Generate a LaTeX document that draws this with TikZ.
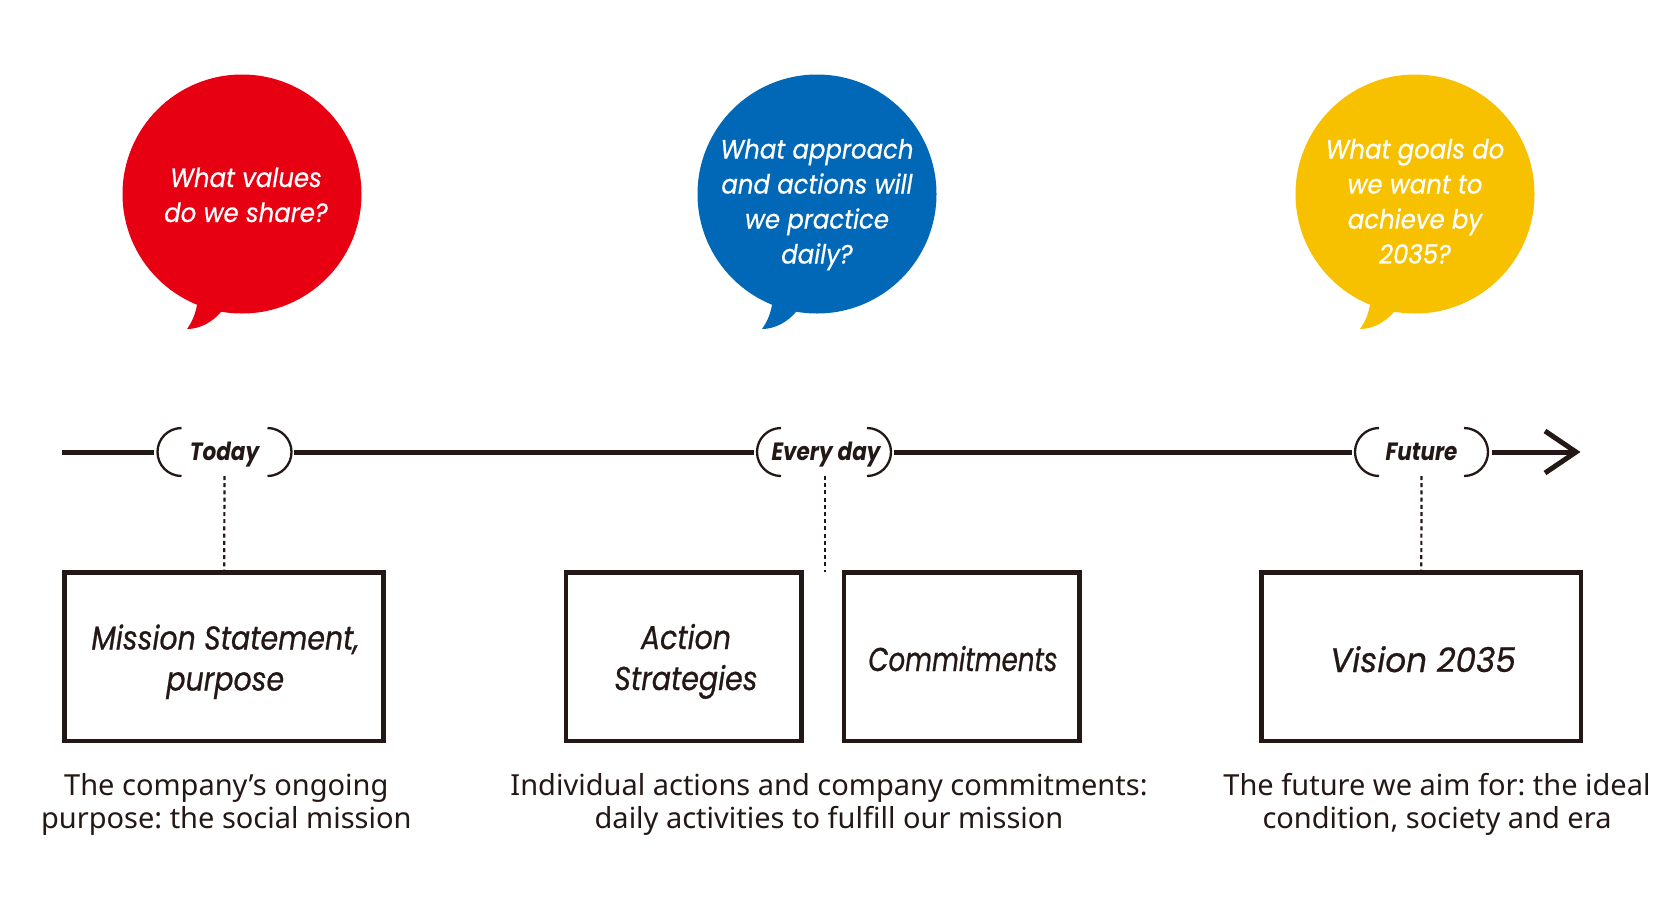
\documentclass[tikz,border=0pt]{standalone}
\usepackage{fontspec}
\setmainfont{Noto Sans}
\newfontfamily\geoq{Poppins}[FakeStretch=0.92,FakeBold=0.6]
\newfontfamily\geo{Poppins}[FakeStretch=0.86]
\newfontfamily\geobox{Poppins}[FakeStretch=0.86,FakeBold=0.7]
\newfontfamily\geoboxn{Poppins}[FakeStretch=0.79,FakeBold=0.7]
\newfontfamily\geoboxw{Poppins}[FakeStretch=0.96,FakeBold=0.7]
\definecolor{ink}{HTML}{231815}
\definecolor{bred}{HTML}{E60012}
\definecolor{bblue}{HTML}{0068B7}
\definecolor{byellow}{HTML}{F8C100}
\frenchspacing
\begin{document}
\begin{tikzpicture}[x=1pt,y=-1pt,
  tline/.style={draw=ink, line width=5pt},
  paren/.style={draw=ink, line width=2.3pt},
  dashlink/.style={draw=ink, line width=2.2pt, dash pattern=on 4pt off 3.2pt},
  bubble/.style={circle, minimum size=239pt, inner sep=0pt, outer sep=0pt},
  qtext/.style={text=white, align=center, inner sep=0pt, font=\geoq\itshape\fontsize{26.5}{35}\selectfont},
  tlabel/.style={text=ink, inner sep=0pt, font=\geo\bfseries\itshape\fontsize{25}{30}\selectfont},
  card/.style={draw=ink, line width=4.7pt, minimum height=168.6pt, inner sep=0pt},
  cardtext/.style={text=ink, align=center, inner sep=0pt, font=\geobox\itshape\fontsize{33}{41}\selectfont},
  desc/.style={text=ink, align=center, inner sep=0pt, font=\fontsize{29}{33.4}\selectfont}
]
\useasboundingbox (0,0) rectangle (1660,922);
\fill[white] (0,0) rectangle (1660,922);

% bubbles
\node[bubble, fill=bred] (q1) at (242,194) {};
\node[bubble, fill=bblue] (q2) at (817,194) {};
\node[bubble, fill=byellow] (q3) at (1415,194) {};
\foreach \c/\col in {242/bred, 817/bblue, 1415/byellow}{
  \begin{scope}[shift={(\c,194)}]
    \fill[\col] (-44,105) .. controls (-46,120) and (-50,128) .. (-55,135)
      .. controls (-42,135) and (-28,128) .. (-18,114) -- (-10,100) -- cycle;
  \end{scope}
}
\node[qtext, anchor=base] (t1) at (246,222) {What values\\do we share?};
\node[qtext, anchor=base] (t2) at (817,263.5) {What approach\\and actions will\\we practice\\daily?};
\node[qtext, anchor=base] (t3) at (1415,263.5) {What goals do\\we want to\\achieve by\\2035?};

% timeline labels
\node[tlabel, anchor=base] (today) at (224.5,460) {Today};
\node[tlabel, anchor=base] (everyday) at (826,460) {Every day};
\node[tlabel, anchor=base] (future) at (1421.5,460) {Future};

% parentheses
\draw[paren] (181.5,428) arc (90:270:24pt);
\draw[paren] (267.5,428) arc (90:-90:24pt);
\draw[paren] (781,428) arc (90:270:24pt);
\draw[paren] (867,428) arc (90:-90:24pt);
\draw[paren] (1379,428) arc (90:270:24pt);
\draw[paren] (1464,428) arc (90:-90:24pt);

% timeline
\coordinate (s0) at (62,452);
\coordinate (s1) at (154,452);
\coordinate (s2) at (294,452);
\coordinate (s3) at (754,452);
\coordinate (s4) at (894,452);
\coordinate (s5) at (1352,452);
\coordinate (s6) at (1492,452);
\coordinate (tip) at (1576,452);
\coordinate (barbU) at (1545,431);
\coordinate (barbD) at (1545,473);
\draw[tline] (s0) -- (s1);
\draw[tline] (s2) -- (s3);
\draw[tline] (s4) -- (s5);
\draw[tline] (s6) -- (tip);
\draw[tline, line join=miter] (barbU) -- (tip) -- (barbD);

% boxes
\node[card, minimum width=319pt] (mission) at (224.2,656.7) {};
\node[card, minimum width=235.6pt] (action) at (683.9,656.7) {};
\node[card, minimum width=235.6pt] (commit) at (961.8,656.7) {};
\node[card, minimum width=319.3pt] (vision) at (1421.3,656.7) {};
\node[cardtext, anchor=base] (missiontxt) at (225.3,690.5) {Mission Statement,\\purpose};
\node[cardtext, anchor=base] (actiontxt) at (686,690) {Action\\Strategies};
\node[cardtext, anchor=base, font=\geoboxn\itshape\fontsize{33}{41}\selectfont] (committxt) at (963,671) {Commitments};
\node[cardtext, anchor=base, font=\geoboxw\itshape\fontsize{34}{41}\selectfont] (visiontxt) at (1423,672) {Vision 2035};

% dashed links
\coordinate (dA) at (224.5,476);
\coordinate (dB) at (825,476);
\coordinate (dB2) at (825,572);
\coordinate (dC) at (1421.5,476);
\draw[dashlink] (dA) -- (mission.north);
\draw[dashlink] (dB) -- (dB2);
\draw[dashlink] (dC) -- (vision.north);

% descriptions
\node[desc, anchor=base] (d1) at (226.3,828.5) {The company’s ongoing\\purpose: the social mission};
\node[desc, anchor=base] (d2) at (829,828.5) {Individual actions and company commitments:\\daily activities to fulfill our mission};
\node[desc, anchor=base] (d3) at (1437,828.5) {The future we aim for: the ideal\\condition, society and era};
\end{tikzpicture}
\end{document}
